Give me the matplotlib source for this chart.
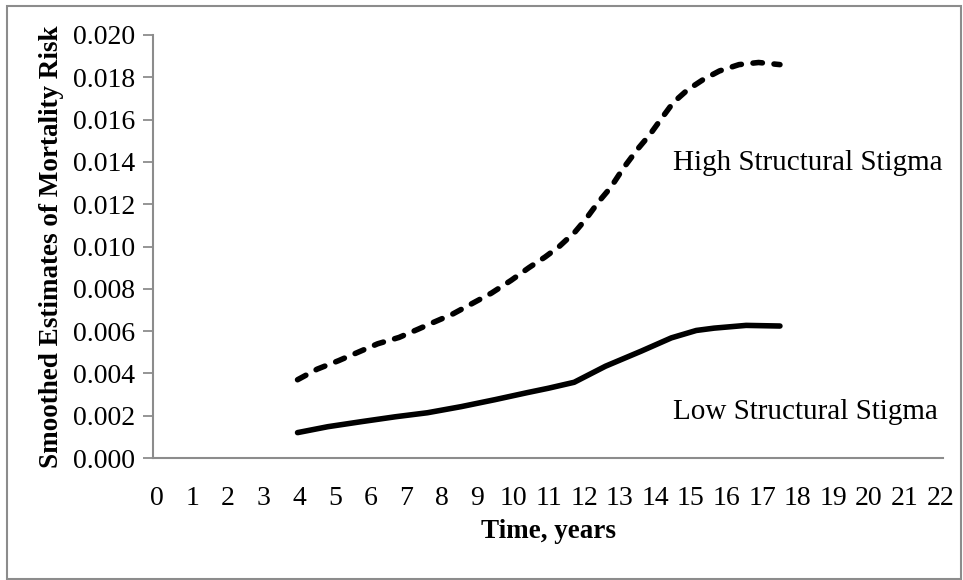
import matplotlib
matplotlib.use("Agg")
import matplotlib.pyplot as plt
from matplotlib.patches import Rectangle

# ---- data ----
high_t = [3.95, 4.5, 5.1, 5.65, 6.2, 6.8, 7.35, 7.75, 8.3, 8.85, 9.4, 9.95,
          10.45, 10.9, 11.3, 11.75, 12.05, 12.4, 12.75, 13.1, 13.5, 13.85,
          14.15, 14.5, 14.9, 15.35, 15.8, 16.35, 16.9, 17.5]
high_v = [0.0037, 0.0042, 0.0046, 0.0050, 0.0054, 0.0057, 0.0061, 0.0064,
          0.0068, 0.0073, 0.0078, 0.0084, 0.0090, 0.0095, 0.0100, 0.0107,
          0.0113, 0.0121, 0.0128, 0.0137, 0.0146, 0.0153, 0.0160, 0.0168,
          0.0174, 0.0179, 0.0183, 0.0186, 0.0187, 0.0186]

low_t = [3.95, 4.8, 5.75, 6.7, 7.6, 8.55, 9.5, 10.4, 11.0, 11.72, 12.6,
         13.6, 14.45, 15.15, 15.65, 16.55, 17.5]
low_v = [0.0012, 0.00148, 0.00172, 0.00195, 0.00214, 0.00243, 0.00276,
         0.00309, 0.0033, 0.00358, 0.00434, 0.00505, 0.00568, 0.00603,
         0.00614, 0.00627, 0.00624]

x_ticks = list(range(0, 23))
y_ticks = [0.000, 0.002, 0.004, 0.006, 0.008, 0.010, 0.012, 0.014, 0.016, 0.018, 0.020]
y_ticklabels = [f"{v:.3f}" for v in y_ticks]

high_label = "High Structural Stigma"
low_label = "Low Structural Stigma"
x_title = "Time, years"
y_title = "Smoothed Estimates of Mortality Risk"

# ---- figure ----
W, H = 963, 580
fig = plt.figure(figsize=(W / 100, H / 100), dpi=100)
plt.rcParams['font.family'] = ['Liberation Serif', 'DejaVu Serif']

# outer border
fig.patches.append(Rectangle((7 / W, 1 / H), (961 - 7) / W, (574 - 1) / H,
                             transform=fig.transFigure, fill=False,
                             edgecolor='#8c8c8c', linewidth=1.5))

ax_l, ax_r, ax_t, ax_b = 153, 943, 35, 458
ax = fig.add_axes([ax_l / W, 1 - ax_b / H, (ax_r - ax_l) / W, (ax_b - ax_t) / H])

ax.plot(high_t, high_v, color='black', linewidth=4.0,
        dashes=(1.7, 2.1), dash_capstyle='round', solid_capstyle='round')
ax.plot(low_t, low_v, color='black', linewidth=4.0, solid_capstyle='round')

ax.set_xlim(-0.11, 22.08)
ax.set_ylim(0, 0.020)

ax.set_xticks(x_ticks)
ax.set_xticklabels([str(v) for v in x_ticks], fontsize=20)
ax.set_yticks(y_ticks)
ax.set_yticklabels(y_ticklabels, fontsize=20)

ax.tick_params(axis='x', length=0, pad=20)
ax.tick_params(axis='y', length=7, width=1.3, color='#8c8c8c', direction='out', pad=6)

for s in ['top', 'right']:
    ax.spines[s].set_visible(False)
for s in ['left', 'bottom']:
    ax.spines[s].set_color('#8c8c8c')
    ax.spines[s].set_linewidth(1.5)

ax.set_xlabel(x_title, fontsize=19.5, fontweight='bold', labelpad=6)
ax.set_ylabel(y_title, fontsize=19.5, fontweight='bold', labelpad=6)

ax.text(14.5, 0.01395, high_label, fontsize=21, ha='left', va='center')
ax.text(14.5, 0.00217, low_label, fontsize=21, ha='left', va='center')

fig.savefig("out.png", dpi=100)
